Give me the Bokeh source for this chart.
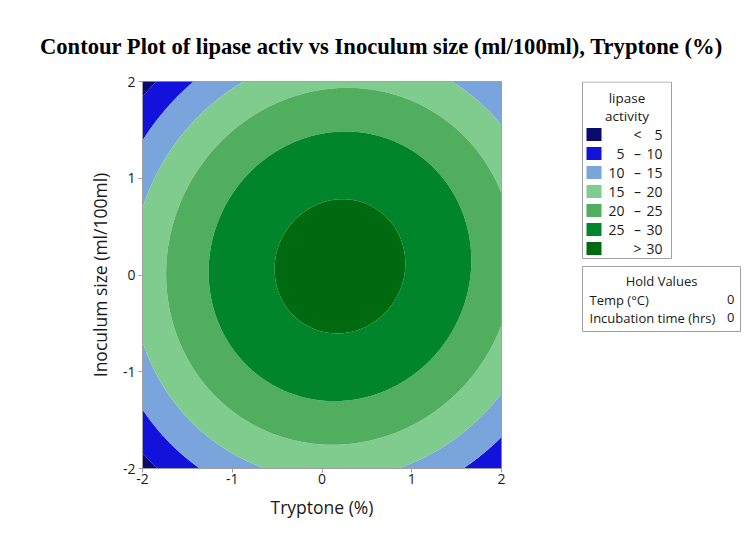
import numpy as np
from bokeh.plotting import figure
from bokeh.layouts import column, row
from bokeh.models import Range1d, FixedTicker
from bokeh.core.properties import value
from bokeh.embed import file_html
from bokeh.resources import INLINE

# ---- data ----
title_text = "Contour Plot of lipase activ vs Inoculum size (ml/100ml), Tryptone (%)"
x_label = "Tryptone (%)"
y_label = "Inoculum size (ml/100ml)"
axis_ticks = [-2, -1, 0, 1, 2]
tick_labels = ["-2", "-1", "0", "1", "2"]
# fitted quadratic response surface (coded units): b0, b1, b2, b11, b22, b12
coef_b0 = 31.5
coef_lin = [1.22, 0.56]          # Tryptone, Inoculum size
coef_sq = [-3.11, -3.43]         # Tryptone^2, Inoculum size^2
coef_int = 0.28                  # Tryptone * Inoculum size
contour_breaks = [5, 10, 15, 20, 25, 30]
band_colors = ["#0b0b6e", "#1212dc", "#7aa5dc", "#80cc8e", "#52ae5f", "#00852b", "#006a10"]
legend_left = ["", "5", "10", "15", "20", "25", ""]
legend_mid = ["<", "\u2013", "\u2013", "\u2013", "\u2013", "\u2013", ">"]
legend_right = ["5", "10", "15", "20", "25", "30", "30"]
hold_names = ["Temp (\u00b0C)", "Incubation time (hrs)"]
hold_values = ["0", "0"]

SANS = "Open Sans"

# ---- surface grid ----
gx = np.linspace(-2, 2, 241)
gy = np.linspace(-2, 2, 241)
X, Y = np.meshgrid(gx, gy)
Z = (coef_b0 + coef_lin[0] * X + coef_lin[1] * Y + coef_sq[0] * X ** 2
     + coef_sq[1] * Y ** 2 + coef_int * X * Y)
levels = [-1000] + contour_breaks + [1000]

# ---- title figure ----
tf = figure(title=None, width=743, height=66, x_range=Range1d(0, 743), y_range=Range1d(66, 0),
            output_backend="svg", toolbar_location=None,
            x_axis_location=None, y_axis_location=None, min_border=0)
tf.outline_line_color = None
tf.grid.visible = False
tf.text(x=[381], y=[46], text=[title_text], text_align="center", text_baseline="middle",
        text_font=value("Liberation Serif"), text_font_style="bold",
        text_font_size="22.6px", text_color="#000000")

# ---- main contour figure ----
p = figure(title=None, width=563, height=464, x_range=Range1d(-2, 2), y_range=Range1d(-2, 2),
           output_backend="svg", toolbar_location=None,
           min_border_left=142, min_border_right=62, min_border_top=15, min_border_bottom=62)
p.grid.visible = False
p.outline_line_color = "#a0a0a0"
p.contour(gx, gy, Z, levels, fill_color=band_colors, line_color=None)

for ax in (p.xaxis[0], p.yaxis[0]):
    ax.ticker = FixedTicker(ticks=axis_ticks)
    ax.major_label_overrides = {t: s for t, s in zip(axis_ticks, tick_labels)}
    ax.minor_tick_line_color = None
    ax.axis_line_color = "#a0a0a0"
    ax.major_tick_line_color = "#a0a0a0"
    ax.major_tick_out = 4
    ax.major_tick_in = 0
    ax.major_label_text_font = SANS
    ax.major_label_text_font_size = "14px"
    ax.major_label_text_color = "#1a1a1a"
    ax.axis_label_text_font = SANS
    ax.axis_label_text_font_size = "17.5px"
    ax.axis_label_text_font_style = "normal"
    ax.axis_label_text_color = "#1a1a1a"
p.xaxis.axis_label = x_label
p.yaxis.axis_label = y_label
p.xaxis.major_label_standoff = 1
p.xaxis.axis_label_standoff = 8
p.yaxis.major_label_standoff = 3
p.yaxis.axis_label_standoff = 8

# ---- legend figure (frame is aligned with the main frame: page y 81..468) ----
lf = figure(title=None, width=180, height=464, x_range=Range1d(563, 743), y_range=Range1d(468, 81),
            output_backend="svg", toolbar_location=None,
            x_axis_location=None, y_axis_location=None, min_border=0)
lf.outline_line_color = None
lf.grid.visible = False

lf.quad(left=[582], right=[671], top=[81.5], bottom=[258], fill_color="white",
        line_color="#a0a0a0", line_width=1)
lf.text(x=[626.5, 626.5], y=[97, 115], text=["lipase", "activity"], text_align="center",
        text_baseline="middle", text_font=value(SANS), text_font_size="13.5px", text_color="#1a1a1a")
n = len(band_colors)
row_y = [134 + 19 * i for i in range(n)]
lf.rect(x=[593.5] * n, y=row_y, width=15, height=13, fill_color=band_colors, line_color=None)
tstyle = dict(text_baseline="middle", text_font=value(SANS), text_font_size="14px", text_color="#1a1a1a")
lf.text(x=[624] * n, y=row_y, text=legend_left, text_align="right", **tstyle)
lf.text(x=[637] * n, y=row_y, text=legend_mid, text_align="center", **tstyle)
lf.text(x=[662] * n, y=row_y, text=legend_right, text_align="right", **tstyle)

lf.quad(left=[582], right=[740], top=[266], bottom=[331], fill_color="white",
        line_color="#a0a0a0", line_width=1)
small = dict(tstyle, text_font_size="13px")
lf.text(x=[661], y=[280], text=["Hold Values"], text_align="center", **small)
hy = [299, 317]
lf.text(x=[589, 589], y=hy, text=hold_names, text_align="left", **small)
lf.text(x=[734, 734], y=hy, text=hold_values, text_align="right", **small)

layout = column(tf, row(p, lf))
open("out.html", "w").write(file_html(layout, INLINE))
